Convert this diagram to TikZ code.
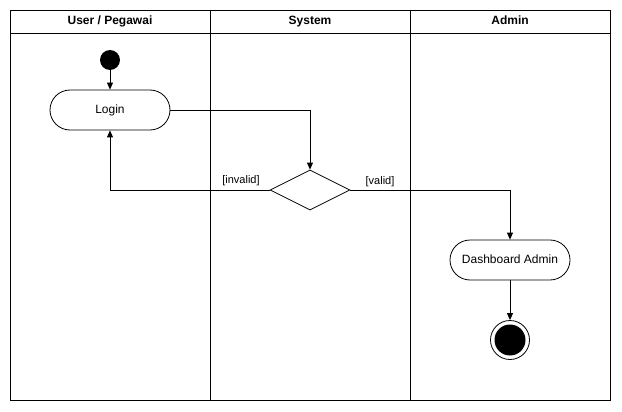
\documentclass[tikz,border=0pt]{standalone}
\usepackage{fontspec}
\setmainfont{Liberation Sans}
\usetikzlibrary{arrows.meta,shapes.geometric}
\begin{document}
\begin{tikzpicture}[x=1pt,y=-1pt,
  line width=0.8pt,
  lane/.style={draw,line width=0.8pt},
  act/.style={draw,rounded corners=20pt,minimum width=120pt,minimum height=40pt,inner sep=0pt,text height=9pt,text depth=2.5pt,font=\fontsize{12}{14}\selectfont},
  dec/.style={draw,diamond,aspect=2,minimum width=80pt,minimum height=40pt,inner sep=0pt},
  hdr/.style={font=\fontsize{12}{14}\selectfont\bfseries,text height=9pt,text depth=2.5pt},
  lbl/.style={font=\fontsize{11}{13}\selectfont,inner sep=1pt,text height=8pt,text depth=2.5pt},
  flow/.style={-{Triangle[length=7pt,width=6pt]},line width=0.8pt}]
\useasboundingbox (0,0) rectangle (622,412);
% swimlanes
\draw[lane] (10,10) rectangle (610,400);
\draw[lane] (10,33) -- (610,33);
\draw[lane] (210,10) -- (210,400);
\draw[lane] (410,10) -- (410,400);
\node[hdr] (h1) at (110,21) {User / Pegawai};
\node[hdr] (h2) at (310,21) {System};
\node[hdr] (h3) at (510,21) {Admin};
% nodes
\node[circle,fill=black,minimum size=20pt,inner sep=0pt] (start) at (110,60) {};
\node[act] (login) at (110,110) {Login};
\node[dec] (d) at (310,190) {};
\node[act] (dash) at (510,260) {Dashboard Admin};
\node[circle,draw,minimum size=39pt,inner sep=0pt] (endo) at (510,340) {};
\node[circle,fill=black,minimum size=31pt,inner sep=0pt] (endi) at (510,340) {};
% flows
\draw[flow] (start) -- (login);
\draw[flow] (login.east) -| (d.north);
\draw[flow] (d.west) -| (login.south);
\draw[flow] (d.east) -| (dash.north);
\draw[flow] (dash) -- (endo);
\node[lbl] (linv) at (241,181) {[invalid]};
\node[lbl] (lval) at (380,182) {[valid]};
\end{tikzpicture}
\end{document}
